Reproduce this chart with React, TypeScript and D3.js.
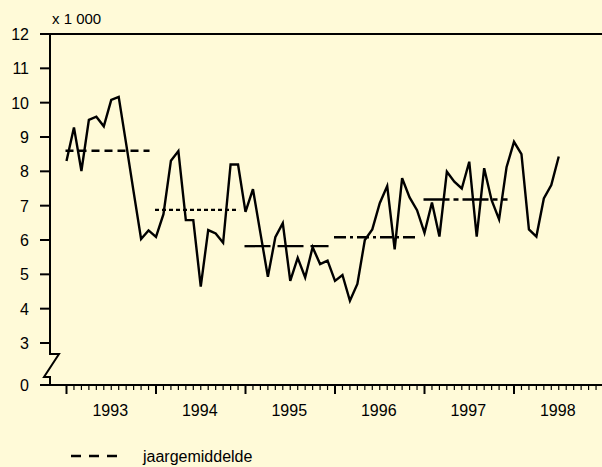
import React from "react";
import * as d3 from "d3";

// Monthly values (x 1 000), January 1993 – July 1998
const values1993 = [8.3, 9.28, 8.01, 9.5, 9.59, 9.31, 10.08, 10.17, 8.8, 7.4, 6.03, 6.28];
const values1994 = [6.09, 6.75, 8.31, 8.59, 6.58, 6.58, 4.64, 6.29, 6.19, 5.92, 8.2, 8.2];
const values1995 = [6.82, 7.48, 6.2, 4.93, 6.08, 6.49, 4.81, 5.48, 4.91, 5.79, 5.3, 5.4];
const values1996 = [4.81, 4.98, 4.23, 4.72, 6.0, 6.31, 7.07, 7.57, 5.73, 7.8, 7.24, 6.87];
const values1997 = [6.21, 7.09, 6.1, 7.99, 7.7, 7.5, 8.28, 6.1, 8.09, 7.16, 6.6, 8.12];
const values1998 = [8.86, 8.5, 6.31, 6.1, 7.21, 7.6, 8.43];

const years = [1993, 1994, 1995, 1996, 1997, 1998];
const yearMeans = [8.6, 6.88, 5.82, 6.08, 7.18];
const meanDash = ["8,5", "4,3", "26,7", "12,4,3,4", "26,4,5,4"];
const yTicks = [3, 4, 5, 6, 7, 8, 9, 10, 11, 12];

const series = [...values1993, ...values1994, ...values1995, ...values1996, ...values1997, ...values1998];

const W = 602;
const H = 467;
const BG = "#FFFAD8";
const FONT = "Liberation Sans, Arial, sans-serif";
const FS = 16;

export default function App() {
  // month index scale (0 = Jan 1993)
  const x = d3.scaleLinear().domain([0, 60]).range([66.5, 514]);
  const y = d3.scaleLinear().domain([3, 12]).range([343, 34]);
  const axisX = 50;
  const baseY = 385;

  const line = d3
    .line<number>()
    .x((_, i) => x(i))
    .y((d) => y(d));

  const minorTicks = d3.range(0, 73).filter((m) => m % 12 !== 0 && x(m) <= W);
  const majorTicks = d3.range(0, 73, 12).filter((m) => x(m) <= W);

  // axis break zigzag
  const breakTop = y(3) + 11;
  const zig = `M${axisX},${y(12)} L${axisX},${breakTop} L${axisX + 9},${breakTop} L${axisX - 6},${baseY - 8} L${axisX},${baseY - 8} L${axisX},${baseY}`;

  return (
    <svg
      width={W}
      height={H}
      style={{ position: "absolute", left: 0, top: 0, background: BG }}
      fontFamily={FONT}
    >
      <rect x={0} y={0} width={W} height={H} fill={BG} />

      {/* top border line */}
      <line x1={40} x2={W} y1={y(12)} y2={y(12)} stroke="#000" strokeWidth={2} />
      {/* x axis line */}
      <line x1={40} x2={W} y1={baseY} y2={baseY} stroke="#000" strokeWidth={2} />
      {/* y axis with break */}
      <path d={zig} fill="none" stroke="#000" strokeWidth={2} />

      <text x={52} y={24} fontSize={15} fill="#000">x 1 000</text>

      {yTicks.map((t) => (
        <g key={t}>
          <line x1={40} x2={axisX} y1={y(t)} y2={y(t)} stroke="#000" strokeWidth={2} />
          <text x={29} y={y(t) + 6} fontSize={FS} textAnchor="end" fill="#000">
            {t}
          </text>
        </g>
      ))}
      <text x={29} y={baseY + 6} fontSize={FS} textAnchor="end" fill="#000">0</text>

      {minorTicks.map((m) => (
        <line key={"mi" + m} x1={x(m)} x2={x(m)} y1={baseY} y2={baseY + 5} stroke="#000" strokeWidth={1.2} />
      ))}
      {majorTicks.map((m) => (
        <line key={"ma" + m} x1={x(m)} x2={x(m)} y1={baseY} y2={baseY + 9} stroke="#000" strokeWidth={2} />
      ))}
      {years.map((yr, i) => (
        <text key={yr} x={x(i * 12 + 6) - 1} y={416} fontSize={FS} textAnchor="middle" fill="#000">
          {yr}
        </text>
      ))}

      {/* yearly means */}
      {yearMeans.map((m, i) => (
        <line
          key={"mean" + i}
          x1={x(i * 12) - 1}
          x2={x(i * 12 + 11) + 1}
          y1={y(m)}
          y2={y(m)}
          stroke="#000"
          strokeWidth={2.3}
          strokeDasharray={meanDash[i]}
        />
      ))}

      {/* monthly series */}
      <path d={line(series) || ""} fill="none" stroke="#000" strokeWidth={2.4} strokeLinejoin="miter" />

      {/* legend */}
      <line x1={71} x2={120} y1={456} y2={456} stroke="#000" strokeWidth={2.5} strokeDasharray="10,8" />
      <text x={143} y={462} fontSize={FS} fill="#000">jaargemiddelde</text>
    </svg>
  );
}
